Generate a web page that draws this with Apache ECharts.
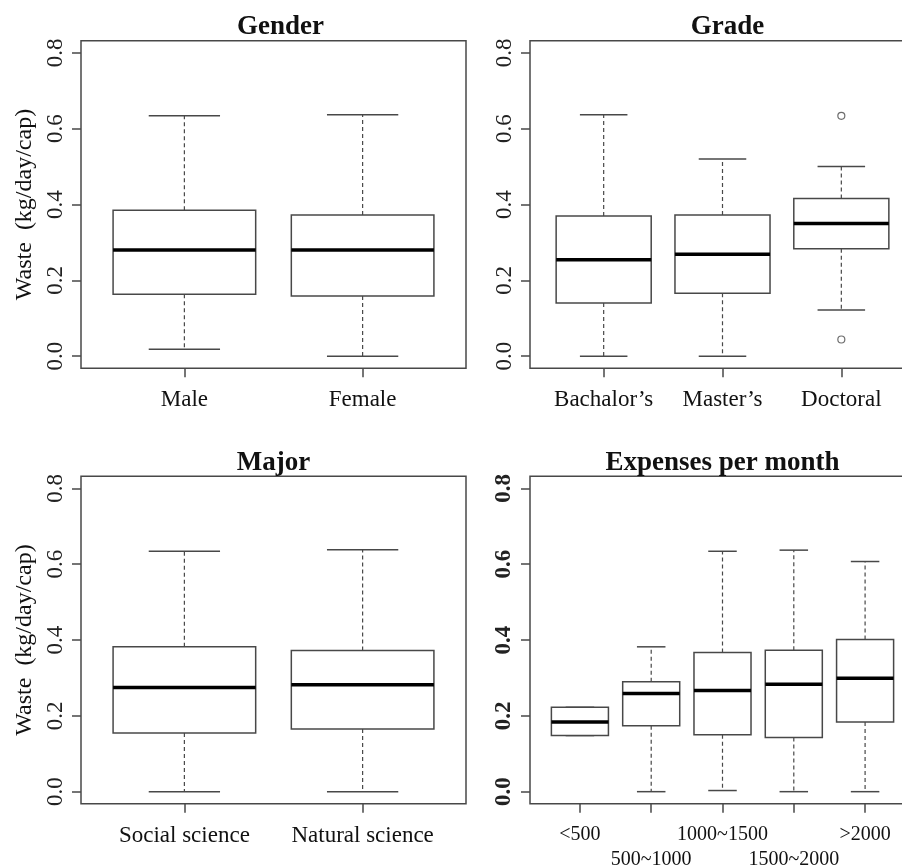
<!DOCTYPE html>
<html><head><meta charset="utf-8">
<script src="https://cdn.jsdelivr.net/npm/echarts@6/dist/echarts.min.js"></script>
<style>html,body{margin:0;padding:0;background:#fff}#c{width:902px;height:868px}</style>
</head><body><div id="c"></div>
<script>
// ---- data: [lower whisker, Q1, median, Q3, upper whisker] ----
const genderCats = ['Male', 'Female'];
const genderStats = [
  [0.018, 0.163, 0.280, 0.385, 0.634],
  [0.000, 0.159, 0.280, 0.372, 0.637]
];
const gradeCats = ["Bachalor\u2019s", "Master\u2019s", 'Doctoral'];
const gradeStats = [
  [0.000, 0.140, 0.254, 0.370, 0.637],
  [0.000, 0.166, 0.269, 0.372, 0.520],
  [0.122, 0.283, 0.350, 0.416, 0.500]
];
const gradeOutliers = [[3, 0.634], [3, 0.044]];
const majorCats = ['Social science', 'Natural science'];
const majorStats = [
  [0.000, 0.155, 0.275, 0.382, 0.634],
  [0.000, 0.165, 0.282, 0.372, 0.638]
];
const expenseCats = ['<500', '500~1000', '1000~1500', '1500~2000', '>2000'];
const expenseStats = [
  [0.148, 0.148, 0.184, 0.2225, 0.2225],
  [0.000, 0.174, 0.259, 0.290, 0.382],
  [0.003, 0.150, 0.267, 0.367, 0.634],
  [0.000, 0.143, 0.283, 0.373, 0.637],
  [0.000, 0.184, 0.299, 0.401, 0.607]
];
const yTicks = [0, 0.2, 0.4, 0.6, 0.8];
const titles = ['Gender', 'Grade', 'Major', 'Expenses per month'];
const yName = 'Waste  (kg/day/cap)';

// ---- styling ----
const SERIF = "'Liberation Serif','Times New Roman',serif";
const LINE = '#484848';
const PW = 385, PH = 327.6;
const lefts = [81, 530, 81, 530];
const tops = [40.7, 40.7, 476.2, 476.2];
const titleShift = [2, 0, -5, -5];

function renderBox(params, api) {
  const x = api.value(0);
  const lo = api.coord([x, api.value(1)]);
  const q1 = api.coord([x, api.value(2)]);
  const md = api.coord([x, api.value(3)]);
  const q3 = api.coord([x, api.value(4)]);
  const hi = api.coord([x, api.value(5)]);
  const cx = lo[0];
  const hw = api.size([0.8, 0])[0] / 2;
  const cw = api.size([0.4, 0])[0] / 2;
  const dash = {stroke: LINE, lineWidth: 1.2, lineDash: [4, 3]};
  const solid = {stroke: LINE, lineWidth: 1.5};
  return {type: 'group', children: [
    {type: 'line', shape: {x1: cx, y1: q3[1], x2: cx, y2: hi[1]}, style: dash},
    {type: 'line', shape: {x1: cx, y1: q1[1], x2: cx, y2: lo[1]}, style: dash},
    {type: 'line', shape: {x1: cx - cw, y1: hi[1], x2: cx + cw, y2: hi[1]}, style: solid},
    {type: 'line', shape: {x1: cx - cw, y1: lo[1], x2: cx + cw, y2: lo[1]}, style: solid},
    {type: 'rect', shape: {x: cx - hw, y: q3[1], width: 2 * hw, height: q1[1] - q3[1]},
      style: {fill: '#fff', stroke: LINE, lineWidth: 1.5}},
    {type: 'line', shape: {x1: cx - hw, y1: md[1], x2: cx + hw, y2: md[1]},
      style: {stroke: '#000', lineWidth: 3.5}}
  ]};
}

const panels = [
  {cats: genderCats, stats: genderStats},
  {cats: gradeCats, stats: gradeStats, outliers: gradeOutliers},
  {cats: majorCats, stats: majorStats},
  {cats: expenseCats, stats: expenseStats, twoRow: true, boldY: true}
];

const option = {animation: false, backgroundColor: '#fff',
  title: [], grid: [], xAxis: [], yAxis: [], series: []};

panels.forEach((p, i) => {
  const n = p.cats.length;
  const pos = p.cats.map((c, k) => k + 1);
  option.grid.push({left: lefts[i], top: tops[i], width: PW, height: PH,
    outerBoundsMode: 'none', containLabel: false,
    show: true, borderColor: LINE, borderWidth: 1.5, backgroundColor: 'transparent'});
  option.title.push({text: titles[i], left: lefts[i] + PW / 2 + titleShift[i], top: tops[i] - 32,
    textAlign: 'center',
    textStyle: {fontFamily: SERIF, fontWeight: 'bold', fontSize: 27, color: '#111'}});
  option.xAxis.push({type: 'value', gridIndex: i, min: 0.5 - 0.04 * n, max: n + 0.5 + 0.04 * n,
    axisLine: {show: false, onZero: false}, splitLine: {show: false},
    axisTick: {show: true, length: 9, customValues: pos, lineStyle: {color: LINE, width: 1.5}},
    axisLabel: {show: true, customValues: pos, margin: p.twoRow ? 18 : 20,
      fontFamily: SERIF, fontSize: p.twoRow ? 20 : 23, color: '#111',
      lineHeight: p.twoRow ? 25 : 24,
      formatter: v => {
        const k = Math.round(v) - 1;
        return p.twoRow && k % 2 === 1 ? '\n' + p.cats[k] : p.cats[k];
      }}});
  option.yAxis.push({type: 'value', gridIndex: i, min: -0.032, max: 0.832,
    axisLine: {show: false, onZero: false}, splitLine: {show: false},
    name: i % 2 === 0 ? yName : '', nameLocation: 'middle', nameGap: 44,
    nameTextStyle: {fontFamily: SERIF, fontSize: 24, color: '#111'},
    axisTick: {show: true, length: 9, customValues: yTicks, lineStyle: {color: LINE, width: 1.5}},
    axisLabel: {show: true, customValues: yTicks, rotate: 90, margin: 14,
      fontFamily: SERIF, fontSize: 23, color: '#222', fontWeight: p.boldY ? 'bold' : 'normal',
      formatter: v => v.toFixed(1)}});
  option.series.push({type: 'custom', xAxisIndex: i, yAxisIndex: i,
    data: p.stats.map((s, k) => [k + 1].concat(s)), renderItem: renderBox, clip: false});
  if (p.outliers) {
    option.series.push({type: 'scatter', xAxisIndex: i, yAxisIndex: i, data: p.outliers,
      symbol: 'circle', symbolSize: 7,
      itemStyle: {color: '#fff', borderColor: LINE, borderWidth: 1.2}});
  }
});

const chart = echarts.init(document.getElementById('c'), null, {renderer: 'canvas'});
chart.setOption(option);
</script>
</body></html>
